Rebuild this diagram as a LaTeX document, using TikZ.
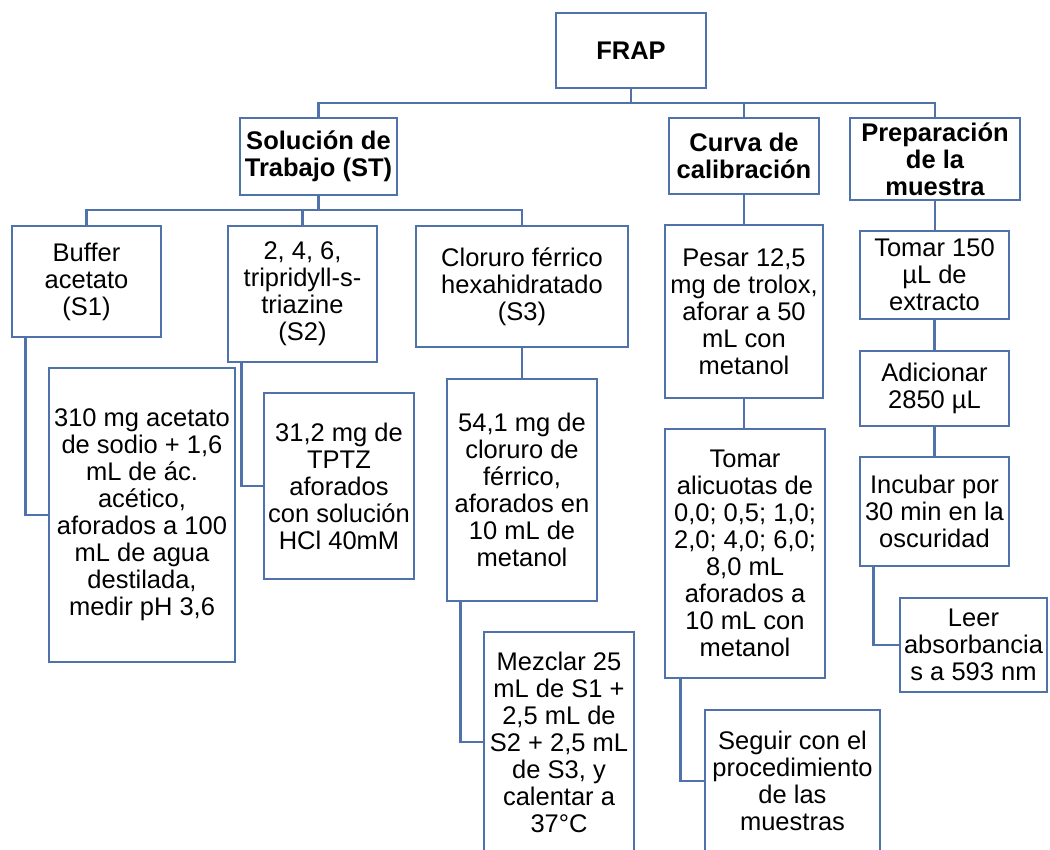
\documentclass[tikz,border=0pt]{standalone}
\usepackage{fontspec}
\setmainfont{Liberation Sans}
\definecolor{edgeblue}{RGB}{79,114,170}
\tikzset{
  box/.style={draw=edgeblue, line width=2.6pt, rectangle, inner sep=0pt,
    align=center, fill=white, font=\fontsize{25.5}{27}\selectfont},
  head/.style={box, font=\fontsize{25.5}{27}\selectfont\bfseries},
  link/.style={draw=edgeblue, line width=2.6pt}
}
\begin{document}
\begin{tikzpicture}[x=1pt,y=-1pt]
\clip (0,0) rectangle (1050,850);
\fill[white] (0,0) rectangle (1050,850);

% top level
\node[head, minimum width=150, minimum height=75] (frap) at (631,50.5) {FRAP};
\node[head, minimum width=157, minimum height=77] (st) at (318.5,156.5) {Solución de\\Trabajo (ST)};
\node[head, minimum width=150, minimum height=76] (curva) at (744,156) {Curva de\\calibración};
\node[head, minimum width=170, minimum height=82] (prep) at (935,159) {Preparación\\de la\\muestra};

% working solution branch
\node[box, minimum width=149, minimum height=111] (s1) at (86.5,281.5) {Buffer\\acetato\\(S1)};
\node[box, minimum width=149, minimum height=136] (s2) at (302.5,294) {2, 4, 6,\\tripridyll-s-\\triazine\\(S2)};
\node[box, minimum width=212, minimum height=121] (s3) at (522,286.5) {Cloruro férrico\\hexahidratado\\(S3)};
\node[box, minimum width=186, minimum height=294] (s1d) at (142,515) {310 mg acetato\\de sodio + 1,6\\mL de ác.\\acético,\\aforados a 100\\mL de agua\\destilada,\\medir pH 3,6};
\node[box, minimum width=150, minimum height=186] (s2d) at (339,486) {31,2 mg de\\TPTZ\\aforados\\con solución\\HCl 40mM};
\node[box, minimum width=150, minimum height=222] (s3d) at (522,490) {54,1 mg de\\cloruro de\\férrico,\\aforados en\\10 mL de\\metanol};
\node[box, minimum width=150, minimum height=220] (mix) at (559,742) {Mezclar 25\\mL de S1 +\\2,5 mL de\\S2 + 2,5 mL\\de S3, y\\calentar a\\37°C};

% calibration branch
\node[box, minimum width=158, minimum height=173] (c1) at (744,311.5) {Pesar 12,5\\mg de trolox,\\aforar a 50\\mL con\\metanol};
\node[box, minimum width=160, minimum height=249] (c2) at (745,553.5) {Tomar\\alicuotas de\\0,0; 0,5; 1,0;\\2,0; 4,0; 6,0;\\8,0 mL\\aforados a\\10 mL con\\metanol};
\node[box, minimum width=175, minimum height=142] (c3) at (792.5,781) {Seguir con el\\procedimiento\\de las\\muestras};

% sample branch
\node[box, minimum width=149, minimum height=88] (p1) at (934.5,275) {Tomar 150\\µL de\\extracto};
\node[box, minimum width=149, minimum height=75] (p2) at (934.5,388.5) {Adicionar\\2850 µL};
\node[box, minimum width=149, minimum height=109] (p3) at (934.5,511.5) {Incubar por\\30 min en la\\oscuridad};
\node[box, minimum width=147, minimum height=94] (p4) at (973.5,645) {Leer\\absorbancia\\s a 593 nm};

% bus lines
\coordinate (busTop) at (631,103);
\coordinate (busST) at (318.5,210);

\draw[link] (frap.south) -- (busTop);
\draw[link] (st.north) |- (busTop);
\draw[link] (curva.north) |- (busTop);
\draw[link] (prep.north) |- (busTop);

\draw[link] (st.south) -- (busST);
\draw[link] (s1.north) |- (busST);
\draw[link] (s2.north) |- (busST);
\draw[link] (s3.north) |- (busST);

% elbow connectors into the detail boxes
\draw[link] ([xshift=15pt]s1.south west) |- (s1d.west);
\draw[link] ([xshift=15pt]s2.south west) |- (s2d.west);
\draw[link] (s3.south) -- (s3d.north);
\draw[link] ([xshift=15pt]s3d.south west) |- (mix.west);

\draw[link] (curva.south) -- (c1.north);
\draw[link] (c1.south) -- (c1.south |- c2.north);
\draw[link] ([xshift=17pt]c2.south west) |- (c3.west);

\draw[link] (prep.south) -- (prep.south |- p1.north);
\draw[link] (p1.south) -- (p2.north);
\draw[link] (p2.south) -- (p3.north);
\draw[link] ([xshift=15pt]p3.south west) |- (p4.west);
\end{tikzpicture}
\end{document}
